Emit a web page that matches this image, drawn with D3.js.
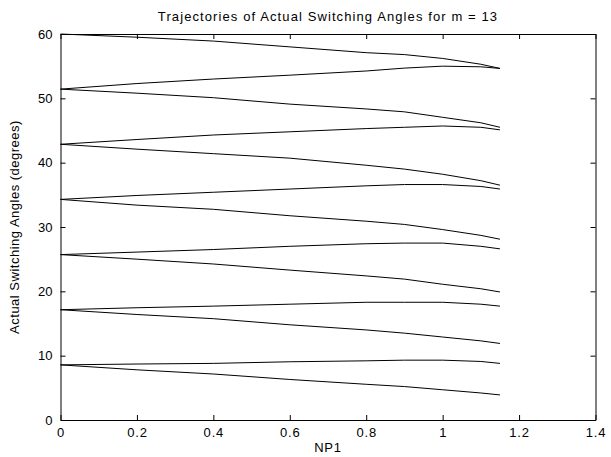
<!DOCTYPE html>
<html>
<head>
<meta charset="utf-8">
<script src="https://cdn.jsdelivr.net/npm/d3@7"></script>
<style>
  html, body { margin: 0; padding: 0; background: #fff; }
  svg text { font-family: "Liberation Sans", Arial, sans-serif; fill: #000; }
</style>
</head>
<body>
<svg id="chart" width="611" height="457"></svg>
<script>
// Modulation index samples (NP1)
const np1 = [0, 0.2, 0.4, 0.6, 0.8, 0.9, 1.0, 1.1, 1.15];

// Switching-angle trajectories (degrees), one array per angle
const angleA = [60.0, 59.5, 58.9, 58.0, 57.1, 56.8, 56.2, 55.3, 54.65];
const angleB = [51.43, 52.3, 53.0, 53.6, 54.25, 54.7, 55.0, 54.9, 54.65];
const angleC = [51.43, 50.8, 50.1, 49.1, 48.35, 47.9, 47.05, 46.2, 45.5];
const angleD = [42.86, 43.6, 44.3, 44.8, 45.3, 45.5, 45.7, 45.5, 45.1];
const angleE = [42.86, 42.1, 41.4, 40.7, 39.6, 39.0, 38.2, 37.2, 36.5];
const angleF = [34.29, 34.9, 35.4, 35.9, 36.4, 36.6, 36.6, 36.3, 35.9];
const angleG = [34.29, 33.4, 32.75, 31.75, 30.9, 30.4, 29.6, 28.7, 28.1];
const angleH = [25.71, 26.1, 26.5, 27.0, 27.4, 27.5, 27.5, 27.0, 26.6];
const angleI = [25.71, 25.0, 24.25, 23.3, 22.4, 21.9, 21.1, 20.4, 19.9];
const angleJ = [17.14, 17.45, 17.7, 18.0, 18.3, 18.3, 18.3, 18.0, 17.7];
const angleK = [17.14, 16.4, 15.75, 14.8, 14.0, 13.5, 12.9, 12.3, 11.9];
const angleL = [8.57, 8.7, 8.8, 9.05, 9.2, 9.3, 9.3, 9.1, 8.8];
const angleM = [8.57, 7.8, 7.15, 6.3, 5.55, 5.2, 4.7, 4.2, 3.9];

const seriesList = [angleA, angleB, angleC, angleD, angleE, angleF, angleG,
                    angleH, angleI, angleJ, angleK, angleL, angleM];

const xTicks = [0, 0.2, 0.4, 0.6, 0.8, 1, 1.2, 1.4];
const yTicks = [0, 10, 20, 30, 40, 50, 60];

const titleText = "Trajectories of Actual Switching Angles for m = 13";
const xLabelText = "NP1";
const yLabelText = "Actual Switching Angles (degrees)";

const margin = { left: 60.5, right: 15.5, top: 34, bottom: 37 };
const W = 611, H = 457;

const svg = d3.select("#chart");

const x = d3.scaleLinear().domain([0, 1.4]).range([margin.left, W - margin.right]);
const y = d3.scaleLinear().domain([0, 60]).range([H - margin.bottom, margin.top]);

const tickLen = 5;
const fmt = d => String(d);

// Bottom axis with labels
const gx = svg.append("g")
  .attr("transform", `translate(0,${y(0)})`)
  .call(d3.axisBottom(x).tickValues(xTicks).tickFormat(fmt).tickSizeInner(-tickLen).tickSizeOuter(0).tickPadding(8));
// Left axis with labels
const gy = svg.append("g")
  .attr("transform", `translate(${x(0)},0)`)
  .call(d3.axisLeft(y).tickValues(yTicks).tickFormat(fmt).tickSizeInner(-tickLen).tickSizeOuter(0).tickPadding(8));
// Top and right axes: ticks only
const gt = svg.append("g")
  .attr("transform", `translate(0,${y(60)})`)
  .call(d3.axisTop(x).tickValues(xTicks).tickFormat("").tickSizeInner(-tickLen).tickSizeOuter(0));
const gr = svg.append("g")
  .attr("transform", `translate(${x(1.4)},0)`)
  .call(d3.axisRight(y).tickValues(yTicks).tickFormat("").tickSizeInner(-tickLen).tickSizeOuter(0));

[gx, gy, gt, gr].forEach(g => {
  g.selectAll("path.domain").attr("stroke", "#000").attr("stroke-width", 1);
  g.selectAll(".tick line").attr("stroke", "#000").attr("stroke-width", 1);
  g.selectAll(".tick text").attr("font-size", 13).attr("font-family", "Liberation Sans, Arial, sans-serif").attr("fill", "#000");
});
gx.selectAll(".tick text").attr("letter-spacing", 0.8);

// Trajectory lines
const line = d3.line()
  .x((d, i) => x(np1[i]))
  .y(d => y(d));

svg.append("g")
  .selectAll("path")
  .data(seriesList)
  .join("path")
  .attr("d", line)
  .attr("fill", "none")
  .attr("stroke", "#000")
  .attr("stroke-width", 1);

// Title and axis labels
svg.append("text")
  .attr("x", (x(0) + x(1.4)) / 2)
  .attr("y", 21)
  .attr("text-anchor", "middle")
  .attr("font-size", 13)
  .attr("letter-spacing", 1.1)
  .text(titleText);

svg.append("text")
  .attr("x", (x(0) + x(1.4)) / 2)
  .attr("y", 452)
  .attr("text-anchor", "middle")
  .attr("font-size", 13)
  .attr("letter-spacing", 0.8)
  .text(xLabelText);

svg.append("text")
  .attr("transform", `translate(19,${(y(0) + y(60)) / 2}) rotate(-90)`)
  .attr("text-anchor", "middle")
  .attr("font-size", 13)
  .attr("letter-spacing", 0.5)
  .text(yLabelText);
</script>
</body>
</html>
